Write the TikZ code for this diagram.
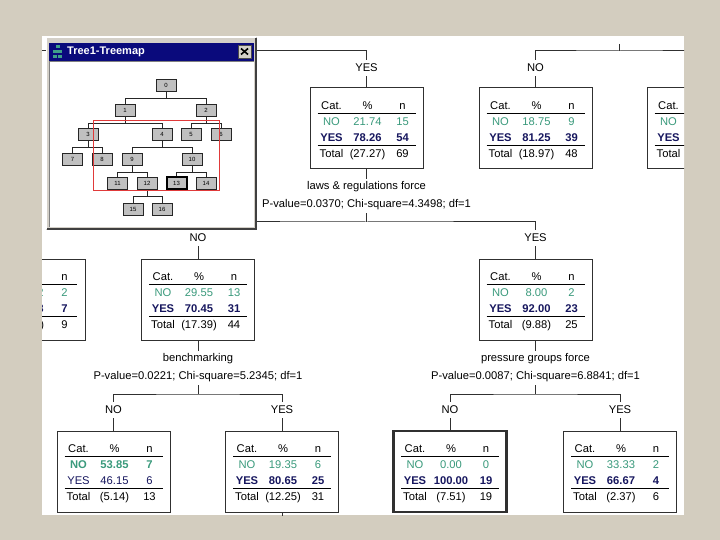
\documentclass[tikz,border=0pt]{standalone}
\usepackage{fontspec}
\setmainfont{Liberation Sans}
\usepackage{array}
\usepackage{tikz}
\definecolor{slidebg}{HTML}{D3CDBF}
\definecolor{nogreen}{HTML}{3A9A7C}
\definecolor{yesnavy}{HTML}{16165E}
\definecolor{boxline}{HTML}{303030}
\definecolor{wingray}{HTML}{D4D0C8}
\definecolor{titlenavy}{HTML}{0A0A7C}
\definecolor{minigray}{HTML}{C0C0C0}
\definecolor{mapred}{HTML}{E03A3A}
\definecolor{iconteal}{HTML}{3FA08A}
\newcolumntype{Y}[1]{>{\centering\arraybackslash}p{#1}}
\setlength{\tabcolsep}{0pt}
\setlength{\arrayrulewidth}{1pt}
% Cat. / % / n table of one tree node
\newcommand{\cattable}[8]{%
  \raisebox{-4.1pt}[0pt][0pt]{\begin{tabular}{@{}Y{28pt}Y{44pt}Y{26pt}@{}}
    Cat. & \% & n\\[-1pt] \hline
    \textcolor{nogreen}{#1NO} & \textcolor{nogreen}{#1#2} & \textcolor{nogreen}{#1#3}\\
    \textcolor{yesnavy}{#4YES} & \textcolor{yesnavy}{#4#5} & \textcolor{yesnavy}{#4#6}\\[-1pt] \hline
    Total & #7 & #8
  \end{tabular}}}
\tikzset{
  catbox/.style={draw=boxline, line width=1pt, fill=white, minimum width=113pt, minimum height=81pt, inner sep=0pt},
  bestleaf/.style={catbox, line width=2.6pt},
  edgelab/.style={inner sep=4pt},
  splitlab/.style={align=center, inner sep=3pt, font=\fontsize{11.2}{18}\selectfont},
  branch/.style={draw=boxline, line width=1pt},
  wintitle/.style={text=white, inner sep=0pt, font=\fontsize{11}{13}\selectfont\bfseries},
  closebtn/.style={draw=black!70, fill=wingray, minimum width=13pt, minimum height=13pt, inner sep=0pt},
  minibox/.style={draw=black!85, fill=minigray, line width=0.8pt, minimum width=20pt, minimum height=12pt, inner sep=0pt, font=\fontsize{6}{6}\selectfont},
  minisel/.style={minibox, draw=black, line width=2pt},
  minilink/.style={draw=black!85, line width=0.8pt}
}
\begin{document}
\begin{tikzpicture}[x=1pt, y=-1pt, font=\fontsize{11.2}{16}\selectfont]
  \useasboundingbox (0,0) rectangle (720,540);
  \fill[slidebg] (0,0) rectangle (720,540);
  \fill[white] (42,36) rectangle (684,515);

  \begin{scope}
    \clip (42,36) rectangle (684,515);
    % first level
    \coordinate (lawsup) at (30,51);
    \coordinate (topstem) at (619.5,44);
    \coordinate (topbar) at (619.5,51);
    \node[edgelab] (lawsedge) at (366.5,68) {YES};
    \node[edgelab] (topnoedge) at (535.5,68) {NO};
    \node[catbox] (laws) at (366.5,128.5) {\cattable{}{21.74}{15}{\bfseries}{78.26}{54}{(27.27)}{69}};
    \node[catbox] (topno) at (535.5,128.5) {\cattable{}{18.75}{9}{\bfseries}{81.25}{39}{(18.97)}{48}};
    \node[catbox] (topyes) at (703.5,128.5) {\cattable{}{}{}{\bfseries}{}{}{}{}};
    \draw[branch] (lawsup) -| (lawsedge);
    \draw[branch] (topstem) -- (topbar);
    \draw[branch] (topnoedge) |- (topbar) -| (topyes);
    \draw[branch] (lawsedge) -- (laws);
    \draw[branch] (topnoedge) -- (topno);

    \node[splitlab] (lawssplit) at (366.5,196) {laws \& regulations force\\P-value=0.0370; Chi-square=4.3498; df=1};
    \coordinate (lawsbar) at (366.5,222);
    \draw[branch] (laws) -- (lawssplit);
    \draw[branch] (lawssplit) -- (lawsbar);

    % second level
    \node[edgelab] (benchedge) at (198,238) {NO};
    \node[edgelab] (pressedge) at (535.5,238) {YES};
    \draw[branch] (benchedge) |- (lawsbar) -| (pressedge);
    \node[catbox] (leftpart) at (28.5,299.5) {\cattable{}{22.22}{2}{\bfseries}{77.78}{7}{(3.56)}{9}};
    \node[catbox] (bench) at (198,299.5) {\cattable{}{29.55}{13}{\bfseries}{70.45}{31}{(17.39)}{44}};
    \node[catbox] (press) at (535.5,299.5) {\cattable{}{8.00}{2}{\bfseries}{92.00}{23}{(9.88)}{25}};
    \draw[branch] (benchedge) -- (bench);
    \draw[branch] (pressedge) -- (press);

    \node[splitlab] (benchsplit) at (198,368) {benchmarking\\P-value=0.0221; Chi-square=5.2345; df=1};
    \node[splitlab] (presssplit) at (535.5,368) {pressure groups force\\P-value=0.0087; Chi-square=6.8841; df=1};
    \coordinate (benchbar) at (198,394);
    \coordinate (pressbar) at (535.5,394);
    \draw[branch] (bench) -- (benchsplit);
    \draw[branch] (benchsplit) -- (benchbar);
    \draw[branch] (press) -- (presssplit);
    \draw[branch] (presssplit) -- (pressbar);

    % third level
    \node[edgelab] (bnoedge) at (113.5,410) {NO};
    \node[edgelab] (byesedge) at (282,410) {YES};
    \node[edgelab] (pnoedge) at (450,410) {NO};
    \node[edgelab] (pyesedge) at (620,410) {YES};
    \draw[branch] (bnoedge) |- (benchbar) -| (byesedge);
    \draw[branch] (pnoedge) |- (pressbar) -| (pyesedge);
    \node[catbox] (benchno) at (113.5,471.5) {\cattable{\bfseries}{53.85}{7}{}{46.15}{6}{(5.14)}{13}};
    \node[catbox] (benchyes) at (282,471.5) {\cattable{}{19.35}{6}{\bfseries}{80.65}{25}{(12.25)}{31}};
    \node[bestleaf] (pressno) at (450,471.5) {\cattable{}{0.00}{0}{\bfseries}{100.00}{19}{(7.51)}{19}};
    \node[catbox] (pressyes) at (620,471.5) {\cattable{}{33.33}{2}{\bfseries}{66.67}{4}{(2.37)}{6}};
    \coordinate (benchyesdown) at (282,530);
    \draw[branch] (bnoedge) -- (benchno);
    \draw[branch] (byesedge) -- (benchyes);
    \draw[branch] (pnoedge) -- (pressno);
    \draw[branch] (pyesedge) -- (pressyes);
    \draw[branch] (benchyes) -- (benchyesdown);
  \end{scope}

  % treemap window
  \fill[wingray] (46,37) rectangle (257,230);
  \draw[white, line width=1pt] (46.5,229) -- (46.5,37.5) -- (256,37.5);
  \draw[black!75, line width=2pt] (47,229) -- (256,229) -- (256,38);
  \fill[titlenavy] (49,43) rectangle (254,61);
  \fill[iconteal] (55.5,45.5) rectangle (60,48.5);
  \fill[iconteal] (53,50.5) rectangle (62,53.5);
  \fill[iconteal] (53,55.5) rectangle (57,58);
  \fill[iconteal] (58,55.5) rectangle (62,58);
  \node[wintitle, anchor=west] (title) at (67,52) {Tree1-Treemap};
  \node[closebtn] (close) at (244.5,51.5) {};
  \draw[line width=1.6pt] (close.center) ++(-3.5,-3) -- ++(7,6);
  \draw[line width=1.6pt] (close.center) ++(-3.5,3) -- ++(7,-6);
  \fill[white] (49,61) rectangle (254,227);
  \draw[black!50] (49,227) -- (49,61) -- (254,61);

  \foreach \n/\x/\y in {0/166/85, 1/125/110, 2/206/110, 3/88/134.5, 4/162/134.5, 5/191/134.5, 6/221/134.5,
      7/72.5/159, 8/102/159, 9/132/159, 10/192/159, 11/117.5/183.5, 12/147/183.5, 14/206/183.5, 15/133/209, 16/162/209}
    \node[minibox] (m\n) at (\x,\y) {\n};
  \node[minisel] (m13) at (176.5,183.5) {13};
  \foreach \p/\a/\b in {0/1/2, 1/3/4, 2/5/6, 3/7/8, 4/9/10, 9/11/12, 10/13/14, 12/15/16} {
    \path (m\p.south) ++(0,7) coordinate (mb\p);
    \draw[minilink] (m\p.south) -- (mb\p);
    \draw[minilink] (m\a) |- (mb\p) -| (m\b);
  }
  \draw[mapred, line width=1pt] (93,121) rectangle (219,191);
\end{tikzpicture}
\end{document}
